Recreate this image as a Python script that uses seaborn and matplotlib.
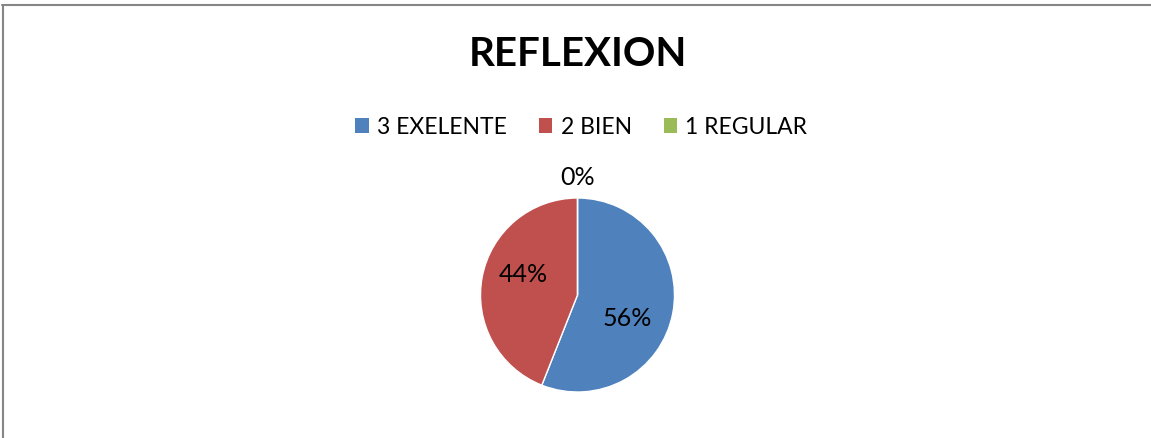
import numpy as np
import matplotlib
matplotlib.use("Agg")
import matplotlib.pyplot as plt
from matplotlib.patches import Patch
from matplotlib.lines import Line2D
import seaborn as sns

# data
categorias = ['3 EXELENTE', '2 BIEN', '1 REGULAR']
porcentajes = [56, 44, 0]
titulo = 'REFLEXION'
colores = ['#4F81BD', '#C0504D', '#9BBB59']

sns.set_theme(style='white')
plt.rcParams['font.family'] = ['Lato', 'DejaVu Sans']
plt.rcParams['text.color'] = 'black'

W, H = 1151, 438
fig = plt.figure(figsize=(W / 100, H / 100), dpi=100)

# pie area, center (577.5, 295) radius 97 px
cx, cy, r = 577.5, 295, 97
ax = fig.add_axes([(cx - r) / W, (H - cy - r) / H, 2 * r / W, 2 * r / H])
wedges, texts, autotexts = ax.pie(
    porcentajes, colors=colores, startangle=90, counterclock=False,
    radius=1, autopct=lambda p: '%d%%' % round(p), pctdistance=0.6,
    wedgeprops=dict(edgecolor='white', linewidth=1),
    textprops=dict(fontsize=18, color='black'))
ax.set_xlim(-1, 1)
ax.set_ylim(-1, 1)
ax.axis('off')

# label placement like Excel best fit
label_pos = [(0.57, -25), (0.6, 159), (1.21, 90)]
for t, (d, ang) in zip(autotexts, label_pos):
    a = np.deg2rad(ang)
    t.set_position((d * np.cos(a), d * np.sin(a)))
    t.set_ha('center')
    t.set_va('center')

fig.text(0.502, 1 - 55 / H, titulo, ha='center', va='center',
         fontsize=29, fontweight='bold', color='black')

handles = [Patch(facecolor=c, edgecolor='none') for c in colores]
leg = fig.legend(handles, categorias, loc='center', bbox_to_anchor=(0.505, 1 - 127 / H),
                 ncol=3, frameon=False, fontsize=16.5, handlelength=0.6,
                 handleheight=0.6, handletextpad=0.35, columnspacing=1.4)
for t in leg.get_texts():
    t.set_color('black')

# chart frame (only top and left visible)
fig.add_artist(Line2D([2 / W, 1], [1 - 4.5 / H, 1 - 4.5 / H], color='#868686', lw=1.5,
                      transform=fig.transFigure))
fig.add_artist(Line2D([2.5 / W, 2.5 / W], [0, 1 - 4.5 / H], color='#868686', lw=1.5,
                      transform=fig.transFigure))

fig.savefig('out.png', dpi=100)
